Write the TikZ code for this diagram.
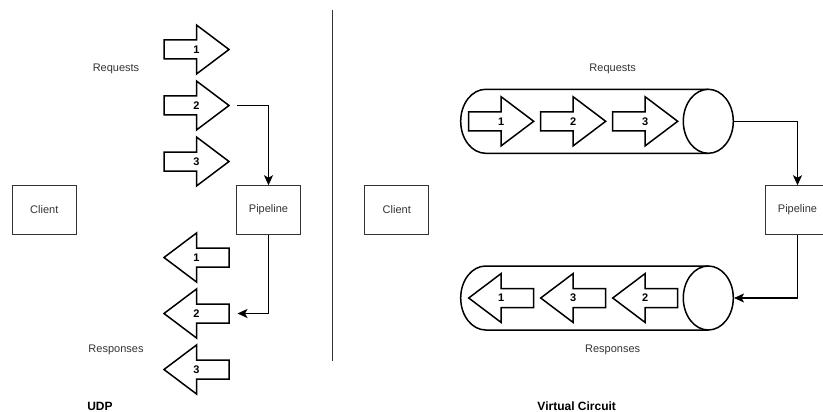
\documentclass[tikz,border=0pt]{standalone}
\usepackage{fontspec}
\setmainfont{Liberation Sans}
\usetikzlibrary{shapes.geometric,arrows.meta}
\definecolor{txt}{HTML}{333333}
\tikzset{
  lbl/.style={font=\fontsize{11}{13}\selectfont, text=txt, inner sep=0pt},
  ttl/.style={font=\fontsize{12}{14}\selectfont\bfseries, text=black, inner sep=0pt},
  num/.style={font=\fontsize{11}{13}\selectfont\bfseries, inner sep=0pt},
  box/.style={draw=txt, line width=1pt, minimum width=64pt, minimum height=48.5pt, font=\fontsize{11}{13}\selectfont, text=txt},
  shp/.style={draw=black, line width=1.5pt, fill=white, line join=miter},
  conn/.style={draw=black, line width=1.5pt, -{Stealth[length=10pt,width=9pt,inset=2.5pt]}},
}
\newcommand{\rarr}[4]{% name, x tail, y center, label
  \path[shp] (#2,#3-9.5) -- (#2+32.5,#3-9.5) -- (#2+32.5,#3-24.5) -- (#2+65,#3)
     -- (#2+32.5,#3+24.5) -- (#2+32.5,#3+9.5) -- (#2,#3+9.5) -- cycle;
  \node[num] (#1) at (#2+32.5,#3) {#4};}
\newcommand{\larr}[4]{% name, x tip, y center, label
  \path[shp] (#2,#3) -- (#2+32.5,#3-24.5) -- (#2+32.5,#3-9.5) -- (#2+65,#3-9.5)
     -- (#2+65,#3+9.5) -- (#2+32.5,#3+9.5) -- (#2+32.5,#3+24.5) -- cycle;
  \node[num] (#1) at (#2+32.5,#3) {#4};}
\begin{document}
\begin{tikzpicture}[x=1pt,y=-1pt]
\useasboundingbox (0,0) rectangle (823,412);
% ---------- UDP ----------
\node[lbl] (reqL) at (116,69) {Requests};
\node[lbl] (resL) at (116,350) {Responses};
\node[ttl] (udp) at (100,406.5) {UDP};
\node[box] (clientL) at (44.3,210) {Client};
\node[box] (pipeL) at (268.5,210) {Pipeline};
\rarr{ra1}{164}{49.5}{1}
\rarr{ra2}{164}{105.5}{2}
\rarr{ra3}{164}{161.5}{3}
\larr{la1}{164}{257.5}{1}
\larr{la2}{164}{313.5}{2}
\larr{la3}{164}{369.5}{3}
\coordinate (r2end) at (237,105.5);
\coordinate (l2end) at (237.5,313.5);
\draw[conn] (r2end) -| (pipeL.north);
\draw[conn] (pipeL.south) |- (l2end);
% divider
\draw[draw=txt, line width=1pt] (332.3,10) -- (332.3,361);
% ---------- Virtual Circuit ----------
\node[lbl] (reqR) at (612.7,69) {Requests};
\node[lbl] (resR) at (612.7,350) {Responses};
\node[ttl] (vc) at (576.7,406.5) {Virtual Circuit};
\node[box] (clientR) at (396.8,210) {Client};
\node[box] (pipeR) at (797.5,210) {Pipeline};
% top tube
\draw[line width=1.5pt] (708.3,89.3) -- (485.7,89.3)
   arc[start angle=90, end angle=270, x radius=25pt, y radius=32pt] -- (708.3,153.3);
\node[ellipse, draw, line width=1.5pt, fill=white, minimum width=50pt, minimum height=64pt, inner sep=0pt] (e1) at (708.3,121.3) {};
\rarr{ta1}{468.7}{121.3}{1}
\rarr{ta2}{540.7}{121.3}{2}
\rarr{ta3}{612.7}{121.3}{3}
% bottom tube
\draw[line width=1.5pt] (708.3,266) -- (485.7,266)
   arc[start angle=90, end angle=270, x radius=25pt, y radius=32pt] -- (708.3,330);
\node[ellipse, draw, line width=1.5pt, fill=white, minimum width=50pt, minimum height=64pt, inner sep=0pt] (e2) at (708.3,298) {};
\larr{ba1}{468.7}{298}{1}
\larr{ba2}{540.7}{298}{3}
\larr{ba3}{612.7}{298}{2}
\draw[conn] (e1.east) -| (pipeR.north);
\draw[conn] (pipeR.south) |- (e2.east);
\end{tikzpicture}
\end{document}
